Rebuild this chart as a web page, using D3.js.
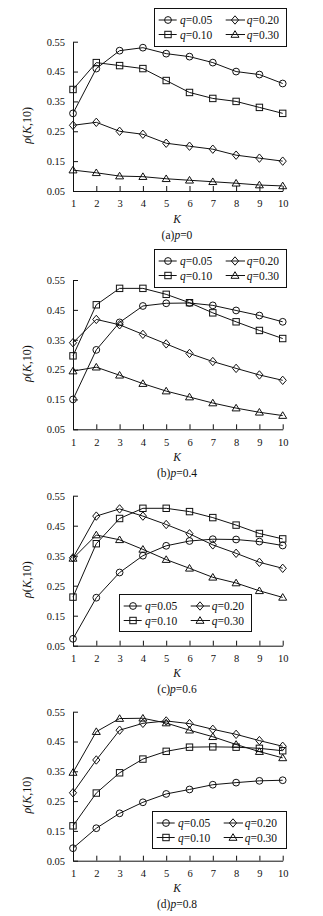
<!DOCTYPE html>
<html><head><meta charset="utf-8">
<script src="https://cdn.jsdelivr.net/npm/d3@7"></script>
<style>
html,body{margin:0;padding:0;background:#fff;}
svg{display:block;}
svg text{font-family:"Liberation Serif","Times New Roman","Nimbus Roman",serif !important;fill:#111;}
</style></head>
<body>
<svg id="c" width="323" height="916"></svg>
<script>
const K = [1,2,3,4,5,6,7,8,9,10];
const yTicks = [0.05,0.15,0.25,0.35,0.45,0.55];
const qLabels = ["0.05","0.10","0.20","0.30"];
const markerTypes = ["circle","square","diamond","triangle"];
const panelTitles = [["(a)","p","=0"],["(b)","p","=0.4"],["(c)","p","=0.6"],["(d)","p","=0.8"]];

// panel (a) p=0
const a_q005 = [0.31,0.46,0.52,0.53,0.51,0.50,0.48,0.45,0.44,0.41];
const a_q010 = [0.39,0.48,0.47,0.46,0.42,0.38,0.36,0.35,0.33,0.31];
const a_q020 = [0.27,0.28,0.25,0.24,0.21,0.20,0.19,0.17,0.16,0.15];
const a_q030 = [0.12,0.111,0.10,0.098,0.091,0.086,0.081,0.076,0.070,0.067];
// panel (b) p=0.4
const b_q005 = [0.150,0.316,0.408,0.463,0.472,0.473,0.465,0.448,0.431,0.410];
const b_q010 = [0.296,0.467,0.522,0.522,0.502,0.474,0.440,0.410,0.381,0.354];
const b_q020 = [0.340,0.418,0.400,0.368,0.336,0.304,0.277,0.254,0.232,0.214];
const b_q030 = [0.245,0.258,0.231,0.203,0.178,0.158,0.138,0.121,0.107,0.096];
// panel (c) p=0.6
const c_q005 = [0.073,0.210,0.294,0.350,0.383,0.399,0.405,0.404,0.397,0.384];
const c_q010 = [0.212,0.390,0.474,0.508,0.508,0.497,0.477,0.452,0.424,0.406];
const c_q020 = [0.343,0.482,0.506,0.482,0.454,0.423,0.386,0.358,0.328,0.308];
const c_q030 = [0.341,0.419,0.403,0.371,0.337,0.308,0.278,0.259,0.233,0.211];
// panel (d) p=0.8
const d_q005 = [0.092,0.159,0.209,0.246,0.274,0.289,0.305,0.312,0.318,0.320];
const d_q010 = [0.167,0.277,0.345,0.391,0.417,0.431,0.432,0.431,0.427,0.419];
const d_q020 = [0.278,0.388,0.488,0.511,0.519,0.510,0.491,0.474,0.453,0.434];
const d_q030 = [0.346,0.483,0.527,0.528,0.512,0.488,0.466,0.440,0.416,0.395];

const panelData = [
  [a_q005,a_q010,a_q020,a_q030],
  [b_q005,b_q010,b_q020,b_q030],
  [c_q005,c_q010,c_q020,c_q030],
  [d_q005,d_q010,d_q020,d_q030]
];

// layout
const layout = [
  {top:41.7, bottom:191,   legend:{x:154,y:8,   w:132,h:38}},
  {top:280,  bottom:429.3, legend:{x:154,y:249, w:132,h:38}},
  {top:495.7,bottom:645.7, legend:{x:119,y:594, w:132,h:37}},
  {top:711.7,bottom:860.7, legend:{x:152,y:811, w:134,h:37}}
];
const X0 = 73, X1 = 282.7;
const svg = d3.select("#c");
svg.append("rect").attr("width",323).attr("height",916).attr("fill","#fff");

function drawMarker(g, type, cx, cy){
  let m;
  if(type==="circle"){
    m = g.append("circle").attr("cx",cx).attr("cy",cy).attr("r",3.4);
  } else if(type==="square"){
    m = g.append("rect").attr("x",cx-3.2).attr("y",cy-3.2).attr("width",6.4).attr("height",6.4);
  } else if(type==="diamond"){
    m = g.append("path").attr("d",`M${cx},${cy-4.2}L${cx+3.6},${cy}L${cx},${cy+4.2}L${cx-3.6},${cy}Z`);
  } else {
    m = g.append("path").attr("d",`M${cx},${cy-3.8}L${cx+4},${cy+2.8}L${cx-4},${cy+2.8}Z`);
  }
  m.attr("fill","none").attr("stroke","#111").attr("stroke-width",1);
}

layout.forEach((L,pi)=>{
  const x = d3.scaleLinear().domain([1,10]).range([X0,X1]);
  const y = d3.scaleLinear().domain([0.05,0.55]).range([L.bottom,L.top]);
  const g = svg.append("g");

  const ya = d3.axisLeft(y).tickValues(yTicks).tickFormat(d3.format(".2f")).tickSizeInner(-5).tickSizeOuter(0).tickPadding(8);
  const yg = g.append("g").attr("transform",`translate(${X0},0)`).call(ya);
  yg.attr("font-family",null).attr("font-size",null);
  yg.selectAll("text").attr("font-size","10.5px").attr("fill","#111");
  yg.selectAll("line,path").attr("stroke","#111");

  const xa = d3.axisBottom(x).tickValues(K).tickFormat(d3.format("d")).tickSizeInner(-5).tickSizeOuter(0).tickPadding(9);
  const xg = g.append("g").attr("transform",`translate(0,${L.bottom})`).call(xa);
  xg.attr("font-family",null).attr("font-size",null);
  xg.selectAll("text").attr("font-size","10.5px").attr("fill","#111");
  xg.selectAll("line,path").attr("stroke","#111");

  const yl = g.append("text").attr("transform",`translate(31,${(L.top+L.bottom)/2+9}) rotate(-90)`)
    .attr("text-anchor","middle").attr("font-size","12px");
  yl.append("tspan").attr("font-style","italic").text("ρ");
  yl.append("tspan").text("(");
  yl.append("tspan").attr("font-style","italic").text("K");
  yl.append("tspan").text(",10)");

  g.append("text").attr("x",177).attr("y",L.bottom+31.5).attr("text-anchor","middle")
    .attr("font-size","11.5px").attr("font-style","italic").text("K");
  const t = g.append("text").attr("x",177).attr("y",L.bottom+47.5).attr("text-anchor","middle").attr("font-size","11.5px");
  t.append("tspan").text(panelTitles[pi][0]);
  t.append("tspan").attr("font-style","italic").text(panelTitles[pi][1]);
  t.append("tspan").text(panelTitles[pi][2]);

  const line = d3.line().x((d,i)=>x(K[i])).y(d=>y(d));
  panelData[pi].forEach((s,si)=>{
    g.append("path").attr("d",line(s)).attr("fill","none").attr("stroke","#111").attr("stroke-width",1);
    s.forEach((v,i)=>drawMarker(g, markerTypes[si], x(K[i]), y(v)));
  });

  const lg = g.append("g").attr("transform",`translate(${L.legend.x},${L.legend.y})`);
  lg.append("rect").attr("x",0.5).attr("y",0.5).attr("width",L.legend.w).attr("height",L.legend.h)
    .attr("fill","#fff").attr("stroke","#111").attr("stroke-width",1);
  const order = [0,2,1,3];
  const cols = [{l0:4.7,l1:22.7,m:14,t:26},{l0:71.7,l1:91,m:81,t:92.7}];
  const rows = [12,26.5];
  order.forEach((si,k)=>{
    const c = cols[k%2], r = rows[Math.floor(k/2)];
    lg.append("line").attr("x1",c.l0).attr("x2",c.l1).attr("y1",r).attr("y2",r).attr("stroke","#111").attr("stroke-width",1);
    drawMarker(lg, markerTypes[si], c.m, r);
    const tx = lg.append("text").attr("x",c.t).attr("y",r+4).attr("font-size","11.5px");
    tx.append("tspan").attr("font-style","italic").text("q");
    tx.append("tspan").text("=" + qLabels[si]);
  });
});
</script>
</body></html>
